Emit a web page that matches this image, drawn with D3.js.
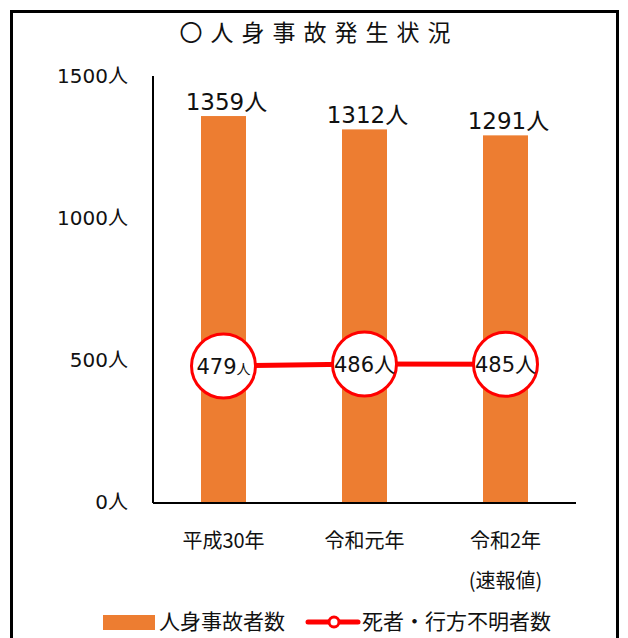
<!DOCTYPE html>
<html lang="ja">
<head>
<meta charset="UTF-8">
<title>人身事故発生状況</title>
<script src="https://cdn.jsdelivr.net/npm/d3@7/dist/d3.min.js"></script>
<style>
  body { margin: 0; background: #fff; }
  text { font-family: "DejaVu Sans", "Noto Sans CJK JP", sans-serif; fill: #111; }
  .cjk { font-family: "Noto Sans CJK JP", sans-serif; }
</style>
</head>
<body>
<div id="chart"></div>
<script>
// data
const years = ["平成30年", "令和元年", "令和2年"];
const yearNotes = ["", "", "(速報値)"];
const accidents = [1359, 1312, 1291];
const deaths = [479, 486, 485];
const yTicks = [0, 500, 1000, 1500];

const W = 628, H = 638;
const x0 = 153, x1 = 576, yBase = 502, yTop = 76;

const svg = d3.select("#chart").append("svg")
    .attr("width", W).attr("height", H);

// outer frame
svg.append("rect")
    .attr("x", 11.5).attr("y", 11.5)
    .attr("width", 606).attr("height", 640)
    .attr("fill", "none").attr("stroke", "#000").attr("stroke-width", 3);

svg.append("text")
    .attr("class", "cjk")
    .attr("x", 319).attr("y", 41)
    .attr("text-anchor", "middle")
    .attr("font-size", 23)
    .attr("letter-spacing", 8)
    .text("〇人身事故発生状況");

const x = d3.scaleBand().domain(years).range([x0, x1]).paddingInner(0);
const y = d3.scaleLinear().domain([0, 1500]).range([yBase, yTop]);

// y tick labels
svg.append("g").selectAll("text")
    .data(yTicks).enter().append("text")
    .attr("x", 128)
    .attr("y", d => y(d) + 7)
    .attr("text-anchor", "end")
    .attr("font-size", 20)
    .text(d => d + "人");

// bars
const barW = 45;
svg.append("g").selectAll("rect")
    .data(accidents).enter().append("rect")
    .attr("x", (d, i) => x(years[i]) + x.bandwidth() / 2 - barW / 2)
    .attr("y", d => y(d))
    .attr("width", barW)
    .attr("height", d => yBase - y(d))
    .attr("fill", "#ED7D31");

// bar labels
svg.append("g").selectAll("text")
    .data(accidents).enter().append("text")
    .attr("x", (d, i) => x(years[i]) + x.bandwidth() / 2 + 3)
    .attr("y", d => y(d) - 6)
    .attr("text-anchor", "middle")
    .attr("font-size", 23)
    .text(d => d + "人");

// axes lines
svg.append("line").attr("x1", x0).attr("x2", x0).attr("y1", yTop).attr("y2", yBase + 1)
    .attr("stroke", "#000").attr("stroke-width", 2);
svg.append("line").attr("x1", x0).attr("x2", x1).attr("y1", yBase + 1).attr("y2", yBase + 1)
    .attr("stroke", "#000").attr("stroke-width", 2);

// x labels
const xl = svg.append("g").selectAll("g")
    .data(years).enter().append("g");
xl.append("text")
    .attr("class", "cjk")
    .attr("x", d => x(d) + x.bandwidth() / 2)
    .attr("y", 548)
    .attr("text-anchor", "middle")
    .attr("font-size", 20)
    .text(d => d);
xl.append("text")
    .attr("class", "cjk")
    .attr("x", d => x(d) + x.bandwidth() / 2)
    .attr("y", 588)
    .attr("text-anchor", "middle")
    .attr("font-size", 20)
    .text((d, i) => yearNotes[i]);

// death line
const line = d3.line()
    .x((d, i) => x(years[i]) + x.bandwidth() / 2)
    .y(d => y(d));
svg.append("path")
    .datum(deaths)
    .attr("d", line)
    .attr("fill", "none")
    .attr("stroke", "#FF0000")
    .attr("stroke-width", 5);

const pts = svg.append("g").selectAll("g")
    .data(deaths).enter().append("g")
    .attr("transform", (d, i) => `translate(${x(years[i]) + x.bandwidth() / 2},${y(d)})`);
pts.append("circle")
    .attr("r", 32)
    .attr("fill", "#fff")
    .attr("stroke", "#FF0000")
    .attr("stroke-width", 3);
const lt = pts.append("text")
    .attr("text-anchor", "middle")
    .attr("y", 8)
    .attr("font-size", 21);
lt.append("tspan").text(d => d);
lt.append("tspan")
    .attr("font-size", (d, i) => i === 0 ? 14 : 21)
    .text("人");

// legend
svg.append("rect")
    .attr("x", 103).attr("y", 615).attr("width", 52).attr("height", 15)
    .attr("fill", "#ED7D31");
svg.append("text")
    .attr("x", 159).attr("y", 629)
    .attr("font-size", 21)
    .text("人身事故者数");
svg.append("line")
    .attr("x1", 308).attr("x2", 358).attr("y1", 622).attr("y2", 622)
    .attr("stroke", "#FF0000").attr("stroke-width", 5).attr("stroke-linecap", "round");
svg.append("circle")
    .attr("cx", 334).attr("cy", 622).attr("r", 5)
    .attr("fill", "#fff").attr("stroke", "#FF0000").attr("stroke-width", 3);
svg.append("text")
    .attr("x", 362).attr("y", 629)
    .attr("font-size", 21)
    .text("死者・行方不明者数");
</script>
</body>
</html>
